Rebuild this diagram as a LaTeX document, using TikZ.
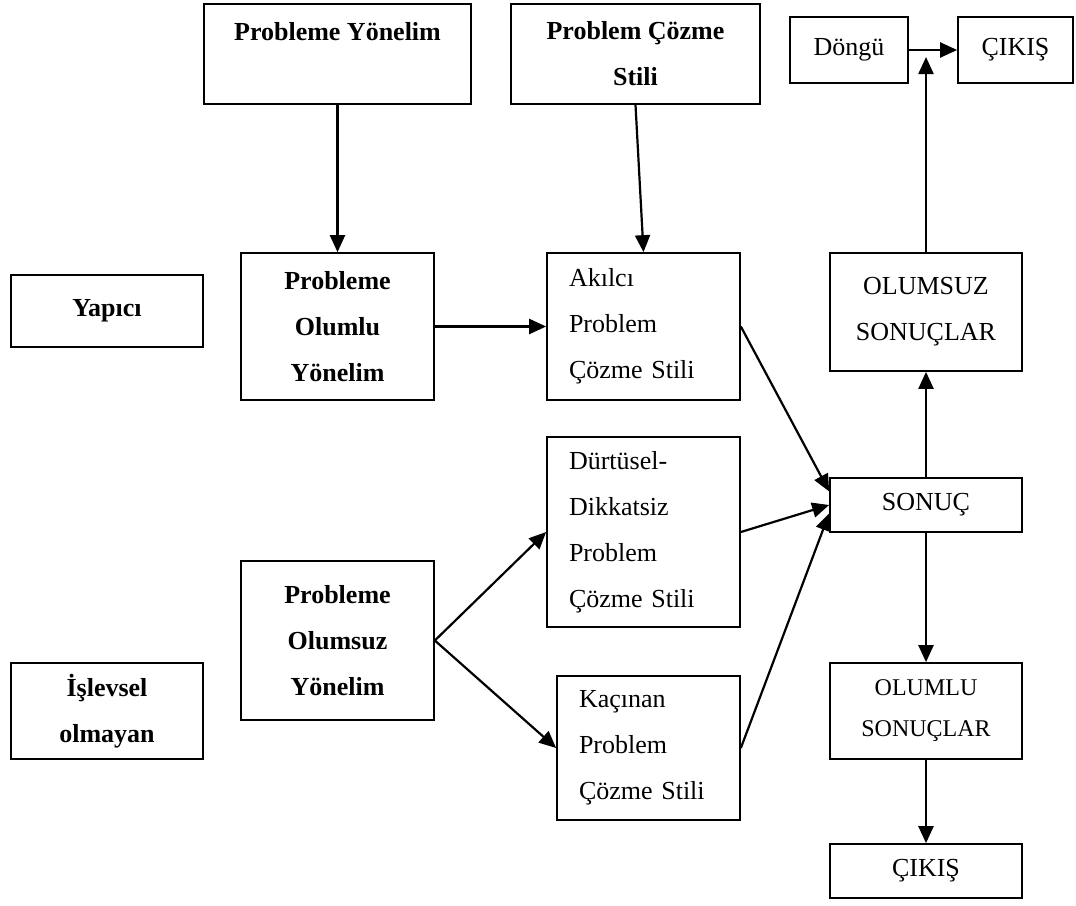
\documentclass[tikz,border=0pt]{standalone}
\usepackage{fontspec}
\setmainfont{Liberation Serif}
\usetikzlibrary{arrows.meta}

\begin{document}
\begin{tikzpicture}[x=1pt,y=-1pt,->,>={Triangle[length=17pt,width=15pt]},line width=2.2pt,
  every node/.style={draw,line width=1.7pt,inner sep=0pt,align=center,font=\fontsize{26}{46}\selectfont},
  kalin/.style={font=\bfseries\fontsize{26}{46}\selectfont},
  sola/.style={align=left,inner xsep=22pt}]
  \useasboundingbox (0,0) rectangle (1076,905);
  % ust satir
  \node[kalin,minimum width=267pt,minimum height=100pt] (yonelim) at (337.5,54) {Probleme Yönelim\\~};
  \node[kalin,minimum width=249pt,minimum height=100pt] (stil) at (635.5,54) {Problem Çözme\\Stili};
  \node[minimum width=118pt,minimum height=66pt] (dongu) at (849,50) {Döngü};
  \node[minimum width=115pt,minimum height=66pt] (cikisust) at (1015.5,50) {ÇIKIŞ};
  % yapici
  \node[kalin,minimum width=192pt,minimum height=72pt] (yapici) at (107,311) {Yapıcı};
  \node[kalin,minimum width=193pt,minimum height=147pt] (olumlu) at (337.5,326.5) {Probleme\\Olumlu\\Yönelim};
  \node[sola,text width=149pt,minimum height=147pt] (akilci) at (643.5,326.5) {Akılcı\\Problem\\Çözme Stili};
  \node[minimum width=192pt,minimum height=118pt] (olumsuzsonuc) at (926,312) {OLUMSUZ\\SONUÇLAR};
  \node[minimum width=192pt,minimum height=54pt] (sonuc) at (926,505) {SONUÇ};
  % islevsel olmayan
  \node[sola,text width=149pt,minimum height=190pt] (durtusel) at (643.5,532) {Dürtüsel-\\Dikkatsiz\\Problem\\Çözme Stili};
  \node[kalin,minimum width=193pt,minimum height=159pt] (olumsuz) at (337.5,640.5) {Probleme\\Olumsuz\\Yönelim};
  \node[kalin,minimum width=192pt,minimum height=96pt] (islevsel) at (107,711) {İşlevsel\\olmayan};
  \node[sola,text width=139pt,minimum height=144pt] (kacinan) at (648.5,748) {Kaçınan\\Problem\\Çözme Stili};
  \node[minimum width=192pt,minimum height=96pt,font=\fontsize{24}{41}\selectfont] (olumlusonuc) at (926,711) {OLUMLU\\SONUÇLAR};
  \node[minimum width=192pt,minimum height=54pt] (cikisalt) at (926,871) {ÇIKIŞ};
  \coordinate (donus) at (926,57);

  \path (yonelim) edge (olumlu);
  \path (stil.south) edge (akilci.north);
  \path (olumlu) edge (akilci);
  \path (akilci.east) edge (sonuc.172);
  \path (durtusel.east) edge (sonuc.west);
  \path (kacinan.east) edge (sonuc.185);
  \path (olumsuz.east) edge (durtusel.west);
  \path (olumsuz.east) edge (kacinan.west);
  \path (sonuc) edge (olumsuzsonuc);
  \path (olumsuzsonuc) edge (donus);
  \path (dongu) edge (cikisust);
  \path (sonuc) edge (olumlusonuc);
  \path (olumlusonuc) edge (cikisalt);
\end{tikzpicture}
\end{document}
